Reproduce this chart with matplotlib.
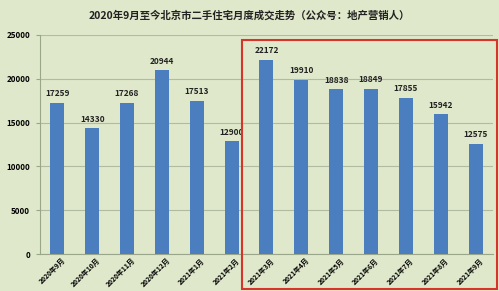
import matplotlib
matplotlib.use("Agg")
import matplotlib.pyplot as plt
from matplotlib.patches import Rectangle
from matplotlib.transforms import ScaledTranslation

plt.rcParams['font.family'] = ['Noto Sans CJK SC', 'DejaVu Sans']

months = ["2020年9月", "2020年10月", "2020年11月", "2020年12月", "2021年1月", "2021年2月",
          "2021年3月", "2021年4月", "2021年5月", "2021年6月", "2021年7月", "2021年8月", "2021年9月"]
volumes = [17259, 14330, 17268, 20944, 17513, 12900,
           22172, 19910, 18838, 18849, 17855, 15942, 12575]
title = "2020年9月至今北京市二手住宅月度成交走势（公众号：地产营销人）"

bg = "#dfe8ca"
fig = plt.figure(figsize=(4.99, 2.91), dpi=100, facecolor=bg)
ax = fig.add_axes([0.080, 0.127, 0.908, 0.753], facecolor=bg)

x = range(len(months))
ax.bar(x, volumes, width=0.4, color="#4a7ebf", zorder=3)
for xi, v in zip(x, volumes):
    ax.text(xi, v + 500, str(v), ha="center", va="bottom", fontsize=6,
            fontweight="bold", color="#222222")

ax.set_xlim(-0.5, len(months) - 0.5)
ax.set_ylim(0, 25000)
ax.set_yticks(range(0, 25001, 5000))
ax.tick_params(axis="y", labelsize=5.8, length=3, color="#9aa68a", pad=4)
for lab in ax.get_yticklabels():
    lab.set_fontweight("bold")
ax.set_xticks(list(x))
ax.set_xticklabels(months, rotation=45, ha="right", rotation_mode="anchor",
                   fontsize=4.9, fontweight="bold")
ax.tick_params(axis="x", length=0, pad=2)
offset = ScaledTranslation(4 / 100, 0, fig.dpi_scale_trans)
for lab in ax.get_xticklabels():
    lab.set_transform(lab.get_transform() + offset)
ax.grid(axis="y", color="#b0bba2", linewidth=0.8, zorder=0)
for s in ["top", "right"]:
    ax.spines[s].set_visible(False)
ax.spines["left"].set_color("#9aa68a")
ax.spines["bottom"].set_color("#9aa68a")

fig.text(0.5, 0.947, title, ha="center", va="center", fontsize=7.5, fontweight="bold",
         color="#222222")

rect = Rectangle((242 / 499, 2 / 291), (497 - 242) / 499, (289 - 40) / 291,
                 transform=fig.transFigure, fill=False, edgecolor="#d9342b",
                 linewidth=1.5, zorder=10)
fig.patches.append(rect)

fig.savefig("out.png", dpi=100, facecolor=bg)
